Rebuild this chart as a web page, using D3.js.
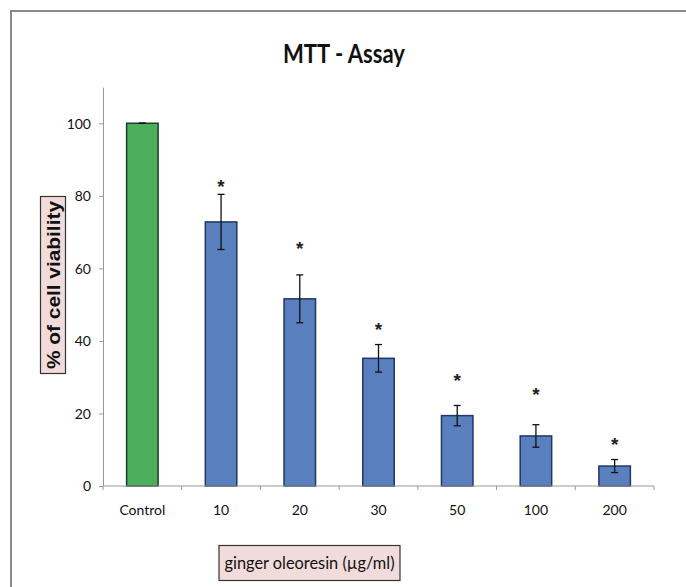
<!DOCTYPE html>
<html>
<head>
<meta charset="utf-8">
<script src="https://cdn.jsdelivr.net/npm/d3@7"></script>
<style>
  body { margin: 0; background: #fff; }
  svg { display: block; }
  .tick text { font-family: Lato, sans-serif; font-size: 14px; fill: #111; }
  .domain, .tick line { stroke: #999; }
</style>
</head>
<body>
<svg id="view" width="686" height="587"></svg>
<script>
const categories = ['Control', '10', '20', '30', '50', '100', '200'];
const viability = [100, 72.8, 51.6, 35.2, 19.4, 13.8, 5.5];
const errors = [0, 7.6, 6.6, 3.8, 2.8, 3.1, 1.8];
const starLevel = [null, 83.8, 66.7, 44.5, 30.5, 26.6, 12.7];
const yTicks = [0, 20, 40, 60, 80, 100];

const svg = d3.select('svg#view');
const margin = { left: 103, top: 87, right: 32, bottom: 101 };
const width = 686 - margin.left - margin.right;
const height = 587 - margin.top - margin.bottom;

// frame (cropped screenshot: only top and left edges show)
svg.append('path')
    .attr('d', 'M11,587 L11,11 L686,11')
    .attr('fill', 'none')
    .attr('stroke', '#8a8a8a')
    .attr('stroke-width', 2);

svg.append('text')
    .attr('x', 344)
    .attr('y', 63)
    .attr('text-anchor', 'middle')
    .attr('font-family', 'Lato, sans-serif')
    .attr('font-weight', 'bold')
    .attr('font-size', 27)
    .attr('textLength', 122)
    .attr('lengthAdjust', 'spacingAndGlyphs')
    .attr('fill', '#111')
    .text('MTT - Assay');

const g = svg.append('g')
    .attr('transform', 'translate(' + margin.left + ',' + margin.top + ')');

const x = d3.scaleBand()
    .domain(categories)
    .range([0, width])
    .padding(0);
const y = d3.scaleLinear()
    .domain([0, 110])
    .range([height, 0]);

const barW = x.bandwidth() * 0.4;

// y axis
g.append('g')
    .call(d3.axisLeft(y).tickValues(yTicks).tickSize(4).tickPadding(8).tickSizeOuter(0))
    .call(function(a) { a.selectAll('.tick text').attr('dy', '0.35em'); });

// bars
g.selectAll('rect.bar')
    .data(categories)
    .enter()
    .append('rect')
    .attr('class', 'bar')
    .attr('x', function(d) { return x(d) + (x.bandwidth() - barW) / 2; })
    .attr('y', function(d, i) { return y(viability[i]); })
    .attr('width', barW)
    .attr('height', function(d, i) { return y(0) - y(viability[i]); })
    .attr('fill', function(d, i) { return i === 0 ? '#4caf5c' : '#5a7fbf'; })
    .attr('stroke', function(d, i) { return i === 0 ? '#1f3d2c' : '#1f3864'; })
    .attr('stroke-width', 1.5);

// x axis (ticks between categories, pointing down)
const xAxis = g.append('g')
    .attr('transform', 'translate(0,' + height + ')');
xAxis.append('line')
    .attr('x1', 0).attr('x2', width)
    .attr('stroke', '#999');
xAxis.selectAll('line.sep')
    .data(d3.range(categories.length + 1))
    .enter()
    .append('line')
    .attr('class', 'sep')
    .attr('x1', function(d) { return d * x.step(); })
    .attr('x2', function(d) { return d * x.step(); })
    .attr('y1', 0).attr('y2', 4)
    .attr('stroke', '#999');
xAxis.selectAll('text')
    .data(categories)
    .enter()
    .append('text')
    .attr('x', function(d) { return x(d) + x.bandwidth() / 2; })
    .attr('y', 29)
    .attr('text-anchor', 'middle')
    .attr('font-family', 'Lato, sans-serif')
    .attr('font-size', 14)
    .attr('fill', '#111')
    .text(function(d) { return d; });

// error bars
const eb = g.selectAll('g.err')
    .data(categories)
    .enter()
    .append('g')
    .attr('class', 'err')
    .attr('stroke', '#111')
    .attr('stroke-width', 1.3);
eb.append('line')
    .attr('x1', function(d) { return x(d) + x.bandwidth() / 2; })
    .attr('x2', function(d) { return x(d) + x.bandwidth() / 2; })
    .attr('y1', function(d, i) { return y(viability[i] + errors[i]); })
    .attr('y2', function(d, i) { return y(viability[i] - errors[i]); });
eb.selectAll('line.cap')
    .data(function(d, i) { return [viability[i] + errors[i], viability[i] - errors[i]].map(function(v) { return { c: d, v: v }; }); })
    .enter()
    .append('line')
    .attr('class', 'cap')
    .attr('x1', function(d) { return x(d.c) + x.bandwidth() / 2 - 3.5; })
    .attr('x2', function(d) { return x(d.c) + x.bandwidth() / 2 + 3.5; })
    .attr('y1', function(d) { return y(d.v); })
    .attr('y2', function(d) { return y(d.v); });

// significance stars
g.selectAll('text.star')
    .data(categories.filter(function(d, i) { return starLevel[i] !== null; }))
    .enter()
    .append('text')
    .attr('class', 'star')
    .attr('x', function(d) { return x(d) + x.bandwidth() / 2; })
    .attr('y', function(d) { return y(starLevel[categories.indexOf(d)]); })
    .attr('dy', '0.6em')
    .attr('text-anchor', 'middle')
    .attr('font-family', "'Liberation Sans', sans-serif")
    .attr('font-weight', 'bold')
    .attr('font-size', 19)
    .attr('fill', '#222')
    .text('*');

// y axis title box
const yt = svg.append('g')
    .attr('transform', 'translate(53,285) rotate(-90)');
yt.append('rect')
    .attr('x', -88.5).attr('y', -12.5)
    .attr('width', 177).attr('height', 25)
    .attr('fill', '#f2dcdb')
    .attr('stroke', '#333')
    .attr('stroke-width', 1.2);
yt.append('text')
    .attr('text-anchor', 'middle')
    .attr('dy', '0.36em')
    .attr('font-family', "'Liberation Sans', sans-serif")
    .attr('font-weight', 'bold')
    .attr('font-size', 19)
    .attr('textLength', 168)
    .attr('lengthAdjust', 'spacingAndGlyphs')
    .attr('fill', '#111')
    .text('% of cell viability');

// x axis title box
const xt = svg.append('g')
    .attr('transform', 'translate(309.5,563)');
xt.append('rect')
    .attr('x', -90.5).attr('y', -17.5)
    .attr('width', 181).attr('height', 35)
    .attr('fill', '#f2dcdb')
    .attr('stroke', '#333')
    .attr('stroke-width', 1.2);
xt.append('text')
    .attr('text-anchor', 'middle')
    .attr('dy', '0.35em')
    .attr('font-family', 'Lato, sans-serif')
    .attr('font-size', 18)
    .attr('textLength', 170)
    .attr('lengthAdjust', 'spacingAndGlyphs')
    .attr('fill', '#111')
    .text('ginger oleoresin (µg/ml)');
</script>
</body>
</html>
